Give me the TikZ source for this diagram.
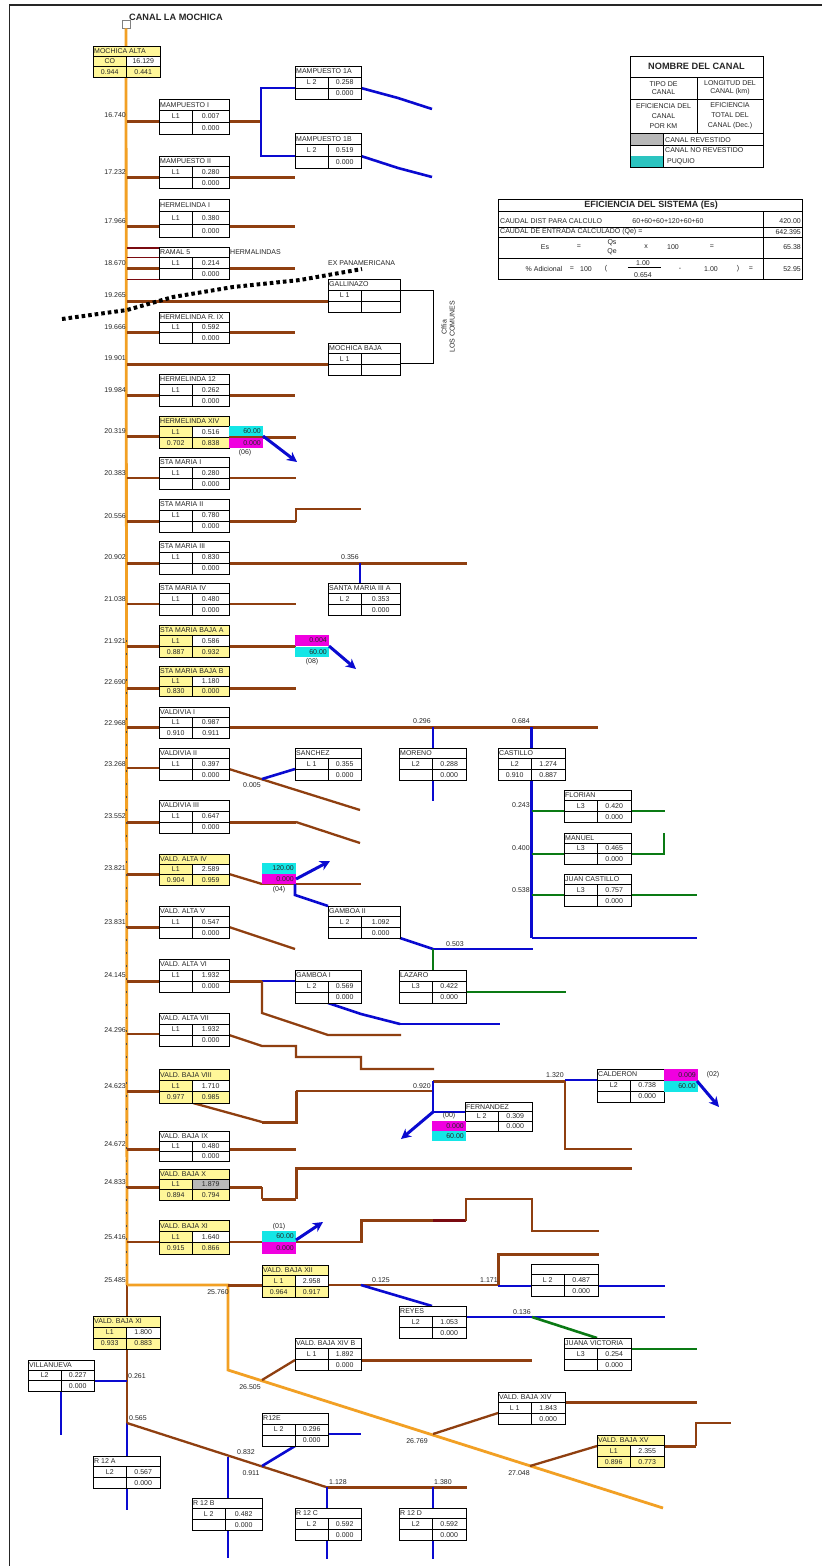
\documentclass[tikz,border=0pt]{standalone}
\usepackage{fontspec}
\setmainfont{Liberation Sans}
\usetikzlibrary{arrows.meta}
\definecolor{cbrown}{HTML}{8F3F10}
\definecolor{cdred}{HTML}{7A0A10}
\definecolor{cblue}{HTML}{0A0AD0}
\definecolor{cgreen}{HTML}{0A7A14}
\definecolor{corange}{HTML}{F2A024}
\definecolor{cylw}{HTML}{FFF799}
\definecolor{ccyan}{HTML}{14E6E6}
\definecolor{cmag}{HTML}{F000E0}
\definecolor{cgry}{HTML}{B8B8B8}
\definecolor{cturq}{HTML}{2BC4C0}
\tikzset{
 txt/.style={inner sep=0pt,font=\fontsize{7}{8}\selectfont,text=black!85},
 dist/.style={txt,anchor=east},
 grid/.style={draw=black,line width=.9pt},
 brT/.style={draw=cbrown,line width=3pt},
 brM/.style={draw=cbrown,line width=2.3pt},
 brS/.style={draw=cbrown,line width=1.6pt},
 blT/.style={draw=cblue,line width=2.6pt},
 blS/.style={draw=cblue,line width=1.6pt},
 grT/.style={draw=cgreen,line width=2.6pt},
 grS/.style={draw=cgreen,line width=1.6pt},
 orT/.style={draw=corange,line width=2.8pt},
 arw/.style={draw=cblue,line width=3pt,-{Stealth[length=10pt,width=10pt]}},
 thinb/.style={draw=black,line width=.7pt},
}
\def\cfT{white}\def\cfA{white}\def\cfB{white}\def\cfC{white}\def\cfD{white}
\newcommand{\Yb}{\def\cfT{cylw}\def\cfA{cylw}\def\cfC{cylw}\def\cfD{cylw}}
\newcommand{\cbox}[9]{\def\bxid{#1}\def\bxx{#2}\def\bxy{#3}\def\bxw{#4}\def\bxh{#5}\def\bxt{#6}\def\bxa{#7}\def\bxb{#8}\def\bxc{#9}\cboxend}
\newcommand{\cboxend}[1]{%
 \pgfmathsetmacro\bxm{\bxx+33.5}\pgfmathsetmacro\bxr{\bxx+\bxw}%
 \pgfmathsetmacro\bxp{\bxy+\bxh/3}\pgfmathsetmacro\bxq{\bxy+2*\bxh/3}\pgfmathsetmacro\bxe{\bxy+\bxh}%
 \pgfmathsetmacro\bxu{\bxy+\bxh/6}\pgfmathsetmacro\bxv{\bxy+\bxh/2}\pgfmathsetmacro\bxz{\bxy+5*\bxh/6}%
 \pgfmathsetmacro\bxg{\bxm/2+\bxx/2}\pgfmathsetmacro\bxk{\bxm/2+\bxr/2}%
 \fill[\cfT] (\bxx,\bxy) rectangle (\bxr,\bxp);
 \fill[\cfA] (\bxx,\bxp) rectangle (\bxm,\bxq);
 \fill[\cfB] (\bxm,\bxp) rectangle (\bxr,\bxq);
 \fill[\cfC] (\bxx,\bxq) rectangle (\bxm,\bxe);
 \fill[\cfD] (\bxm,\bxq) rectangle (\bxr,\bxe);
 \node[grid,inner sep=0pt,anchor=north west,minimum width=\bxw pt,minimum height=\bxh pt] (\bxid) at (\bxx,\bxy) {};
 \draw[grid] (\bxx,\bxp) -- (\bxr,\bxp) (\bxx,\bxq) -- (\bxr,\bxq) (\bxm,\bxp) -- (\bxm,\bxe);
 \coordinate (\bxid-L) at (\bxx,\bxq);\coordinate (\bxid-R) at (\bxr,\bxq);
 \coordinate (\bxid-LT) at (\bxx,\bxp);\coordinate (\bxid-RT) at (\bxr,\bxp);
 \node[txt,anchor=west] (\bxid-t) at (\bxx+1,\bxu) {\bxt};
 \node[txt] (\bxid-a) at (\bxg,\bxv) {\bxa};
 \node[txt] (\bxid-b) at (\bxk,\bxv) {\bxb};
 \node[txt] (\bxid-c) at (\bxg,\bxz) {\bxc};
 \node[txt] (\bxid-d) at (\bxk,\bxz) {#1};
 \def\cfT{white}\def\cfA{white}\def\cfB{white}\def\cfC{white}\def\cfD{white}%
}
\newcommand{\dlab}[2]{\node[dist] (d#2) at (126,#2) {#1};}
\newcommand{\lab}[4]{\node[txt] (#1) at (#2,#3) {#4};}
\newcommand{\cell}[7]{\fill[#6] (#2,#3) rectangle (#4,#5); \node[txt,anchor=east] (#1) at (#4-2,#3/2+#5/2) {#7};}
\begin{document}
\begin{tikzpicture}[x=1pt,y=-1pt]
\useasboundingbox (0,0) rectangle (822,1566);
\fill[white] (0,0) rectangle (822,1566);
% frame
\draw[draw=black!85,line width=1.8pt] (9.5,1566) -- (9.5,5) -- (822,5);
% junctions and free ends
\coordinate (canal) at (127,0);
\coordinate (j1) at (261,121);
\coordinate (fa1) at (398,98);\coordinate (fa2) at (432,109);
\coordinate (fb1) at (398,168);\coordinate (fb2) at (432,177);
\coordinate (e177) at (295,177);\coordinate (e226) at (295,226);\coordinate (e268) at (295,268);
\coordinate (e332) at (295,332);\coordinate (e395) at (295,395);
\coordinate (e436) at (296,437);\coordinate (e478) at (296,478);
\coordinate (e604) at (296,604);\coordinate (e688) at (296,688);
\coordinate (e1149) at (296,1149);
\coordinate (c1285) at (127,1285);
\coordinate (c1423) at (127,1423);
\coordinate (o1) at (228,1285);\coordinate (o2) at (228,1370);\coordinate (o3) at (663,1508);
\coordinate (o26) at (262,1380);\coordinate (o27) at (433,1434);\coordinate (o28) at (530,1466);
% main canal
\node[draw=black!50,fill=white,line width=.8pt,minimum size=8pt,inner sep=0pt] (head) at (126,24) {};
\draw[orT] (head) -- (c1285);
\draw[draw=black!70,line width=.7pt,dash pattern=on 2pt off 11pt] (126,640) -- (126,1270);
\draw[brM] (c1285) -- (c1423);
\draw[orT] (c1285) -- (o1) -- (o2) -- (o3);
% ---------- connectors ----------
\begin{scope}[line join=miter]
\draw[brT] (canal|-0,121) -- (160,121);
\draw[brT] (229,121) -- (j1);
\draw[blT] (295,88) -- (261,88) -- (261,156) -- (295,156);
\draw[blT] (361,88) -- (fa1) -- (fa2);
\draw[blT] (361,156) -- (fb1) -- (fb2);
\foreach \yy/\st in {177/brT,226/brT,268/brT,332/brT,395/brT,436/brT,563/brT,646/brT,688/brT,727/brT,822/brT,874/brT,927/brT,981/brT,1091/brT,1149/brT,1187/brT,478/brS,604/brS,768/brM,1034/brM,1242/brM,521/brT}
  \draw[\st] (127,\yy) -- (160,\yy);
\draw[brT] (229,177) -- (e177);
\draw[brT] (229,226) -- (e226);
\draw[brT] (229,268) -- (e268);
\draw[brT] (127,301) -- (328,301);
\draw[brT] (229,332) -- (e332);
\draw[brT] (127,364) -- (328,364);
\draw[brT] (229,395) -- (e395);
\draw[brT] (229,437) -- (e436);
\draw[brS] (229,478) -- (e478);
\draw[brT] (229,521) -- (296,521);\draw[brM] (296,522) -- (296,509) -- (361,509);
\draw[brT] (229,563) -- (467,563);
\draw[blT] (360,563) -- (360,583);
\draw[brS] (229,604) -- (e604);
\draw[brT] (229,646) -- (296,646);
\draw[brT] (229,688) -- (e688);
\draw[brT] (229,727) -- (598,727);
\draw[blT] (433,727) -- (433,748) (433,780) -- (433,801);
\draw[blT] (531.5,727) -- (531.5,748);
\draw[blT] (531.5,780) -- (531.5,938);
\draw[blS] (531.5,938) -- (697,938);
\draw[grS] (531.5,811) -- (564,811) (631,811) -- (665,811);
\draw[grT] (531.5,854) -- (564,854);\draw[grT] (631,854) -- (664,854) -- (664,833);
\draw[grT] (531.5,895) -- (564,895) (631,895) -- (697,895);
\draw[brM] (229,769) -- (360,810);
\draw[blT] (262,779) -- (295,769);
\draw[brT] (229,822) -- (296,822);\draw[brM] (296,822) -- (360,843);
\draw[brM] (229,874) -- (262,884);\draw[brS] (262,884) -- (361,884);
\draw[blT] (295,884) -- (295,895) -- (328,906);
\draw[blT] (400,938) -- (433,949);\draw[blS] (433,949) -- (533,949);
\draw[grT] (433,949) -- (433,970);
\draw[grT] (466,992) -- (566,992);
\draw[brM] (229,927) -- (295,949);
\draw[brT] (229,981) -- (262,981);\draw[blS] (262,981) -- (295,981);
\draw[brM] (262,981) -- (262,1013) -- (328,1035) -- (401,1035);
\draw[blT] (328,1003) -- (361,1014) -- (400,1024);\draw[blS] (400,1024) -- (500,1024);
\draw[brM] (229,1035) -- (262,1046) -- (296,1046) -- (296,1057) -- (361,1057) -- (361,1069) -- (434,1069);
\draw[brM] (193,1103) -- (262,1122);
\draw[brT] (262,1122) -- (296,1122) -- (296,1091);\draw[brM] (296,1091) -- (433,1091);
\draw[brT] (433,1081) -- (565,1081);
\draw[blT] (433,1081) -- (433,1112);\draw[blT] (433,1112) -- (465,1112);
\draw[blT] (565,1080) -- (597,1080);
\draw[brM] (565,1081) -- (565,1149) -- (632,1149);
\draw[brT] (229,1149) -- (e1149);
\draw[brT] (229,1187) -- (262,1187);\draw[brM] (262,1187) -- (262,1199);\draw[brT] (262,1199) -- (296,1199);\draw[brT] (296,1199) -- (296,1168) -- (632,1168);
\draw[brM] (229,1242) -- (361,1242);\draw[brT] (361,1243) -- (361,1220) -- (433,1220);
\draw[draw=cdred,line width=3pt] (433,1220) -- (466,1220);
\draw[brM] (466,1221) -- (466,1199) -- (532,1199) -- (532,1231) -- (599,1231);
\draw[brT] (228,1285) -- (262,1285);
\draw[brM] (328,1285) -- (498,1285);
\draw[brT] (498,1285) -- (498,1254) -- (599,1254);
\draw[blS] (498,1286) -- (531,1286) (598,1286) -- (665,1286);
\draw[blT] (361,1285) -- (432,1306);
\draw[blS] (466,1317) -- (665,1317);
\draw[grT] (532,1317) -- (597,1338);
\draw[grS] (631,1349) -- (697,1349);
\draw[brM] (o26) -- (295,1360);
\draw[brT] (361,1360) -- (532,1360);
\draw[brM] (o27) -- (498,1413);
\draw[brT] (565,1402) -- (697,1402);
\draw[brM] (o28) -- (597,1446);
\draw[brT] (664,1446) -- (696,1446);\draw[brS] (696,1446) -- (696,1423) -- (731,1423);
\draw[blT] (94,1381) -- (127,1381);
\draw[blT] (61,1391) -- (61,1435);
\draw[blT] (127,1423) -- (127,1456) (127,1488) -- (127,1510);
\draw[brM] (c1423) -- (326,1487);\draw[brT] (326,1487) -- (467,1487);
\draw[blT] (228,1457) -- (228,1498) (228,1530) -- (228,1558);
\draw[blT] (262,1466) -- (295,1446);
\draw[blS] (328,1434) -- (361,1434);
\draw[blT] (327,1487) -- (327,1508) (327,1540) -- (327,1559);
\draw[blT] (433,1487) -- (433,1508) (433,1540) -- (433,1559);
\end{scope}
% ramal lines
\draw[draw=cdred,line width=1.6pt] (127,248) -- (160,248);
\draw[draw=cdred,line width=.7pt] (127,257) -- (160,257) (127,279) -- (160,279);
% Comunes bracket
\draw[thinb] (400,290) -- (433,290) -- (433,363) -- (400,363);
% ---------- boxes ----------
\Yb\cbox{mal}{93}{46}{67}{31}{MOCHICA ALTA}{CO}{16.129}{0.944}{0.441}
\cbox{mp1}{159}{99}{70}{35}{MAMPUESTO I}{L1}{0.007}{}{0.000}
\cbox{mp2}{159}{156}{70}{32}{MAMPUESTO II}{L1}{0.280}{}{0.000}
\cbox{he1}{159}{199}{70}{38}{HERMELINDA I}{L1}{0.380}{}{0.000}
\cbox{ra5}{159}{247}{70}{32}{RAMAL 5}{L1}{0.214}{}{0.000}
\cbox{he9}{159}{312}{70}{31}{HERMELINDA R. IX}{L1}{0.592}{}{0.000}
\cbox{h12}{159}{374}{70}{32}{HERMELINDA 12}{L1}{0.262}{}{0.000}
\Yb\cbox{h14}{159}{416}{70}{32}{HERMELINDA XIV}{L1}{0.516}{0.702}{0.838}
\cbox{sm1}{159}{457}{70}{32}{STA MARIA  I}{L1}{0.280}{}{0.000}
\cbox{sm2}{159}{499}{70}{33}{STA MARIA II}{L1}{0.780}{}{0.000}
\cbox{sm3}{159}{541}{70}{33}{STA MARIA III}{L1}{0.830}{}{0.000}
\cbox{sm4}{159}{583}{70}{32}{STA MARIA IV}{L1}{0.480}{}{0.000}
\Yb\cbox{sba}{159}{625}{70}{32}{STA MARIA BAJA  A}{L1}{0.586}{0.887}{0.932}
\Yb\cbox{sbb}{159}{666}{70}{30}{STA MARIA BAJA B}{L1}{1.180}{0.830}{0.000}
\cbox{va1}{159}{707}{70}{31}{VALDIVIA I}{L1}{0.987}{0.910}{0.911}
\cbox{va2}{159}{748}{70}{32}{VALDIVIA II}{L1}{0.397}{}{0.000}
\cbox{va3}{159}{800}{70}{33}{VALDIVIA III}{L1}{0.647}{}{0.000}
\Yb\cbox{al4}{159}{854}{70}{31}{VALD. ALTA IV}{L1}{2.589}{0.904}{0.959}
\cbox{al5}{159}{906}{70}{32}{VALD. ALTA V}{L1}{0.547}{}{0.000}
\cbox{al6}{159}{959}{70}{33}{VALD. ALTA VI}{L1}{1.932}{}{0.000}
\cbox{al7}{159}{1013}{70}{33}{VALD. ALTA VII}{L1}{1.932}{}{0.000}
\Yb\cbox{vb8}{159}{1069}{70}{34}{VALD. BAJA VIII}{L1}{1.710}{0.977}{0.985}
\cbox{vb9}{159}{1131}{70}{30}{VALD. BAJA IX}{L1}{0.480}{}{0.000}
\Yb\def\cfB{cgry}\cbox{vbx}{159}{1169}{70}{31}{VALD. BAJA X}{L1}{1.879}{0.894}{0.794}
\Yb\cbox{vxi}{159}{1220}{70}{34}{VALD. BAJA XI}{L1}{1.640}{0.915}{0.866}
\Yb\cbox{vxii}{262}{1265}{66}{32}{VALD. BAJA XII}{L 1}{2.958}{0.964}{0.917}
\Yb\cbox{vxl}{93}{1316}{67}{33}{VALD. BAJA XI}{L1}{1.800}{0.933}{0.883}
\cbox{vil}{28}{1360}{66}{31}{VILLANUEVA}{L2}{0.227}{}{0.000}
\cbox{r1a}{93}{1456}{67}{32}{R 12 A}{L2}{0.567}{}{0.000}
\cbox{r1b}{192}{1498}{70}{32}{R 12 B}{L 2}{0.482}{}{0.000}
\cbox{r1c}{295}{1508}{66}{32}{R 12 C}{L 2}{0.592}{}{0.000}
\cbox{r1d}{399}{1508}{67}{32}{R 12 D}{L2}{0.592}{}{0.000}
\cbox{r1e}{262}{1413}{66}{33}{R12E}{L 2}{0.296}{}{0.000}
\cbox{m1a}{295}{66}{66}{33}{MAMPUESTO 1A}{L 2}{0.258}{}{0.000}
\cbox{m1b}{295}{133}{66}{35}{MAMPUESTO 1B}{L 2}{0.519}{}{0.000}
\cbox{gal}{328}{279}{72}{33}{GALLINAZO}{L 1}{}{}{}
\cbox{mba}{328}{343}{72}{32}{MOCHICA BAJA}{L 1}{}{}{}
\cbox{s3a}{328}{583}{72}{32}{SANTA MARIA III A}{L 2}{0.353}{}{0.000}
\cbox{san}{295}{748}{66}{32}{SANCHEZ}{L 1}{0.355}{}{0.000}
\cbox{mor}{399}{748}{67}{32}{MORENO}{L2}{0.288}{}{0.000}
\cbox{cas}{498}{748}{67}{32}{CASTILLO}{L2}{1.274}{0.910}{0.887}
\cbox{flo}{564}{790}{67}{32}{FLORIAN}{L3}{0.420}{}{0.000}
\cbox{man}{564}{833}{67}{31}{MANUEL}{L3}{0.465}{}{0.000}
\cbox{jca}{564}{874}{67}{32}{JUAN CASTILLO}{L3}{0.757}{}{0.000}
\cbox{ga2}{328}{906}{72}{32}{GAMBOA II}{L 2}{1.092}{}{0.000}
\cbox{ga1}{295}{970}{66}{33}{GAMBOA I}{L 2}{0.569}{}{0.000}
\cbox{laz}{399}{970}{67}{33}{LAZARO}{L3}{0.422}{}{0.000}
\cbox{fer}{465}{1102}{67}{29}{FERNANDEZ}{L 2}{0.309}{}{0.000}
\cbox{cal}{597}{1069}{67}{33}{CALDERON}{L2}{0.738}{}{0.000}
\cbox{unn}{531}{1264}{67}{32}{}{L 2}{0.487}{}{0.000}
\cbox{rey}{399}{1306}{67}{32}{REYES}{L2}{1.053}{}{0.000}
\cbox{x4b}{295}{1338}{66}{32}{VALD. BAJA XIV  B}{L 1}{1.892}{}{0.000}
\cbox{jvi}{564}{1338}{67}{32}{JUANA VICTORIA}{L3}{0.254}{}{0.000}
\cbox{x14}{498}{1392}{67}{32}{VALD. BAJA XIV}{L 1}{1.843}{}{0.000}
\Yb\cbox{x15}{597}{1435}{67}{32}{VALD. BAJA XV}{L1}{2.355}{0.896}{0.773}
% ---------- coloured cells and arrows ----------
\cell{c1a}{229}{426}{263}{437}{ccyan}{60.00}
\draw[brT] (229,437) -- (296,437);
\cell{c1b}{229}{438}{263}{448}{cmag}{0.000}
\lab{p06}{245}{453}{(06)}
\draw[arw] (263,436) -- (297,462);
\cell{c2a}{295}{635}{329}{646}{cmag}{0.004}
\cell{c2b}{295}{647}{329}{657}{ccyan}{60.00}
\lab{p08}{312}{662}{(08)}
\draw[arw] (329,646) -- (356,669);
\cell{c3a}{262}{863}{296}{874}{ccyan}{120.00}
\cell{c3b}{262}{874}{296}{884}{cmag}{0.000}
\lab{p04}{279}{890}{(04)}
\draw[arw] (296,879) -- (330,861);
\cell{c4a}{432}{1121}{466}{1131}{cmag}{0.000}
\cell{c4b}{432}{1131}{466}{1141}{ccyan}{60.00}
\lab{p00}{449}{1116}{(00)}
\draw[arw] (433,1112) -- (401,1139);
\cell{c5a}{664}{1069}{698}{1081}{cmag}{0.009}
\cell{c5b}{664}{1081}{698}{1092}{ccyan}{60.00}
\lab{p02}{713}{1075}{(02)}
\draw[arw] (697,1081) -- (719,1107);
\cell{c6a}{262}{1231}{296}{1242}{ccyan}{60.00}
\cell{c6b}{262}{1242}{296}{1254}{cmag}{0.000}
\lab{p01}{279}{1227}{(01)}
\draw[arw] (296,1240) -- (323,1222);
% road
\draw[draw=black,line width=4pt,dash pattern=on 3.6pt off 3pt] (62,319) -- (127,310) -- (173,297) -- (233,287) -- (300,280) -- (362,269);
% ---------- labels ----------
\node[txt,anchor=west,font=\bfseries\fontsize{9.2}{11}\selectfont] (tit) at (129,17) {CANAL LA MOCHICA};
\dlab{16.740}{115}\dlab{17.232}{172}\dlab{17.966}{221}\dlab{18.670}{263}\dlab{19.265}{295}\dlab{19.666}{327}\dlab{19.901}{358}\dlab{19.984}{390}
\dlab{20.319}{431}\dlab{20.383}{473}\dlab{20.556}{516}\dlab{20.902}{557}\dlab{21.038}{599}\dlab{21.921}{641}\dlab{22.690}{682}\dlab{22.968}{723}
\dlab{23.268}{764}\dlab{23.552}{816}\dlab{23.821}{868}\dlab{23.831}{922}\dlab{24.145}{975}\dlab{24.296}{1030}\dlab{24.623}{1086}\dlab{24.672}{1144}\dlab{24.833}{1182}\dlab{25.416}{1237}\dlab{25.485}{1280}
\node[txt,anchor=west] (herm) at (230,252) {HERMALINDAS};
\node[txt,anchor=west] (expa) at (328,263) {EX PANAMERICANA};
\node[txt,rotate=90,align=center] (cffa) at (448,327) {Cffia\\LOS COMUNES};
\lab{l1}{350}{557}{0.356}
\lab{l2}{422}{721}{0.296}
\lab{l3}{521}{721}{0.684}
\lab{l4}{521}{805}{0.243}
\lab{l5}{521}{848}{0.400}
\lab{l6}{521}{890}{0.538}
\lab{l7}{252}{785}{0.005}
\lab{l8}{455}{944}{0.503}
\lab{l9}{422}{1086}{0.920}
\lab{l10}{555}{1075}{1.320}
\lab{l11}{218}{1292}{25.760}
\lab{l12}{381}{1280}{0.125}
\lab{l13}{489}{1280}{1.171}
\lab{l14}{522}{1312}{0.136}
\lab{l15}{250}{1387}{26.505}
\lab{l16}{417}{1441}{26.769}
\lab{l17}{519}{1473}{27.048}
\lab{l18}{137}{1376}{0.261}
\lab{l19}{138}{1418}{0.565}
\lab{l20}{246}{1452}{0.832}
\lab{l21}{251}{1473}{0.911}
\lab{l22}{338}{1482}{1.128}
\lab{l23}{443}{1482}{1.380}
% ---------- legend ----------
\fill[cgry] (630,133) rectangle (663,145);
\fill[cturq] (630,156) rectangle (663,167);
\node[grid,inner sep=0pt,anchor=north west,minimum width=133pt,minimum height=111pt] (leg) at (630,56) {};
\draw[grid] (630,77) -- (763,77) (630,99) -- (763,99) (630,133) -- (763,133) (630,145) -- (763,145) (663,133) -- (663,167) (697,77) -- (697,133);
\node[txt,font=\bfseries\fontsize{9.2}{11}\selectfont] (legt) at (696.5,66.5) {NOMBRE DEL CANAL};
\node[txt,align=center] (lega) at (663.5,88) {TIPO DE\\CANAL};
\node[txt,align=center] (legb) at (730,88) {LONGITUD DEL\\CANAL (km)};
\node[txt,align=center,font=\fontsize{7}{10}\selectfont] (legc) at (663.5,116) {EFICIENCIA DEL\\CANAL\\POR KM};
\node[txt,align=center,font=\fontsize{7}{10}\selectfont] (legd) at (730,116) {EFICIENCIA\\TOTAL DEL\\CANAL (Dec.)};
\node[txt,anchor=west] (lege) at (665,140) {CANAL REVESTIDO};
\node[txt,anchor=west] (legf) at (665,150.5) {CANAL NO REVESTIDO};
\node[txt,anchor=west] (legg) at (667,161.5) {PUQUIO};
% ---------- efficiency table ----------
\node[grid,inner sep=0pt,anchor=north west,minimum width=304pt,minimum height=80pt] (eff) at (498,199) {};
\draw[grid] (498,211) -- (802,211) (498,227) -- (802,227) (498,237) -- (802,237) (498,258) -- (802,258) (763,211) -- (763,279);
\node[txt,font=\bfseries\fontsize{9}{10}\selectfont] (efft) at (651,205) {EFICIENCIA DEL SISTEMA (Es)};
\node[txt,anchor=west] (eff1) at (500,221) {CAUDAL DIST PARA CALCULO};
\node[txt] (eff2) at (668,221) {60+60+60+120+60+60};
\node[txt,anchor=east] (eff3) at (801,221) {420.00};
\node[txt,anchor=west] (eff4) at (500,232) {CAUDAL DE ENTRADA CALCULADO (Qe) =};
\node[txt,anchor=east] (eff5) at (801,232) {642.395};
\node[txt] (g1) at (545,247) {Es};
\node[txt] (g2) at (579,247) {=};
\node[txt] (g3) at (612,243) {Qs};
\node[txt] (g4) at (612,252) {Qe};
\node[txt] (g5) at (646,247) {x};
\node[txt] (g6) at (673,247) {100};
\node[txt] (g7) at (712,247) {=};
\node[txt,anchor=east] (g8) at (801,247) {65.38};
\node[txt] (h1) at (544,269) {\% Adicional};
\node[txt] (h2) at (572,269) {=};
\node[txt] (h3) at (586,269) {100};
\node[txt] (h4) at (606,269) {(};
\node[txt] (h5) at (643,263) {1.00};
\node[txt] (h6) at (643,275) {0.654};
\draw[thinb] (h5.south west) ++(-8,1.5) -- ++(33,0);
\node[txt] (h7) at (680,269) {-};
\node[txt] (h8) at (711,269) {1.00};
\node[txt] (h9) at (738,269) {)};
\node[txt] (h10) at (751,269) {=};
\node[txt,anchor=east] (h11) at (801,269) {52.95};
\end{tikzpicture}
\end{document}
